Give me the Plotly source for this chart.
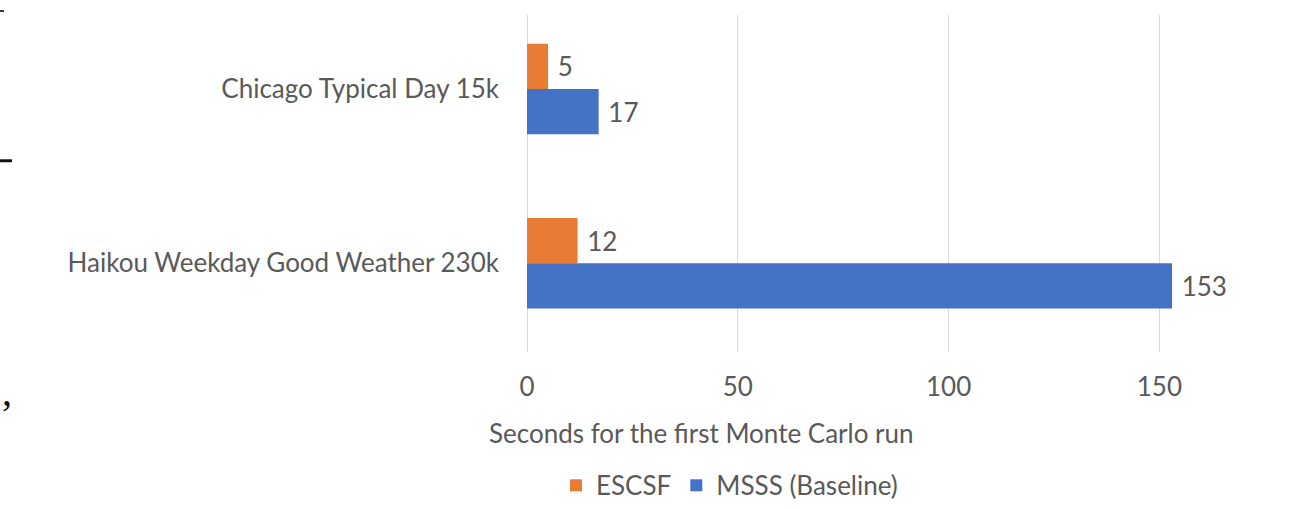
import plotly.graph_objects as go

# Runtime of the first Monte Carlo run, per scenario
scenarios = ["Chicago Typical Day 15k", "Haikou Weekday Good Weather 230k"]
escsf_seconds = [5, 12]
msss_seconds = [17, 153]
series_names = ["ESCSF", "MSSS (Baseline)"]
x_ticks = [0, 50, 100, 150]

ORANGE = "#E97C35"
BLUE = "#4472C4"
TEXT = "#595959"
FONT = "Lato"
FS = 26

W, H = 1292, 509
L, R, T, B = 527, 0, 15, 153
pw, ph = W - L - R, H - T - B


def px_x(px):
    return (px - L) / pw


def px_y(py):
    return (H - B - py) / ph


fig = go.Figure()
for name, vals, col in [(series_names[0], escsf_seconds, ORANGE),
                        (series_names[1], msss_seconds, BLUE)]:
    fig.add_trace(go.Bar(
        y=scenarios, x=vals, name=name, orientation="h",
        marker=dict(color=col, line=dict(width=0)),
        text=vals, texttemplate=" %{x}", textposition="outside",
        textfont=dict(family=FONT, size=FS, color=TEXT),
        cliponaxis=False,
    ))

fig.update_layout(
    width=W, height=H,
    margin=dict(l=L, r=R, t=T, b=B, pad=0),
    paper_bgcolor="white", plot_bgcolor="white",
    barmode="group", bargap=0.48, bargroupgap=0,
    font=dict(family=FONT, color=TEXT, size=FS),
    showlegend=True,
    legend=dict(orientation="h", x=px_x(556), y=px_y(491),
                xanchor="left", yanchor="middle",
                font=dict(family=FONT, size=FS, color=TEXT),
                itemwidth=30, tracegroupgap=0, traceorder="normal"),
    xaxis=dict(range=[0, pw / 4.216], tickvals=x_ticks,
               showgrid=True, gridcolor="#D9D9D9", gridwidth=1,
               zeroline=True, zerolinecolor="#D9D9D9", zerolinewidth=1,
               showline=False, ticks="", ticklabelstandoff=17,
               tickfont=dict(family=FONT, size=FS, color=TEXT)),
    yaxis=dict(type="category", categoryorder="array", categoryarray=scenarios,
               range=[1.51, -0.425], showgrid=False, zeroline=False,
               showline=False, ticks="", ticklabelstandoff=27,
               tickfont=dict(family=FONT, size=FS, color=TEXT)),
)

# Axis title, centred under the chart area
fig.add_annotation(text="Seconds for the first Monte Carlo run",
                   xref="paper", yref="paper", x=px_x(701), y=px_y(438),
                   xanchor="center", yanchor="middle", showarrow=False,
                   font=dict(family=FONT, size=FS, color=TEXT))

# Fragments of neighbouring page text along the left edge
fig.add_shape(type="rect", xref="paper", yref="paper",
              x0=px_x(0), x1=px_x(4), y0=px_y(10), y1=px_y(12),
              fillcolor="#333333", line=dict(width=0))
fig.add_shape(type="rect", xref="paper", yref="paper",
              x0=px_x(0), x1=px_x(12), y0=px_y(161), y1=px_y(164),
              fillcolor="#111111", line=dict(width=0))
fig.add_annotation(text=",", xref="paper", yref="paper",
                   x=px_x(0), y=px_y(396), xanchor="left", yanchor="middle",
                   showarrow=False,
                   font=dict(family="Liberation Serif", size=40, color="#111111"))

fig.write_html("out.html")
